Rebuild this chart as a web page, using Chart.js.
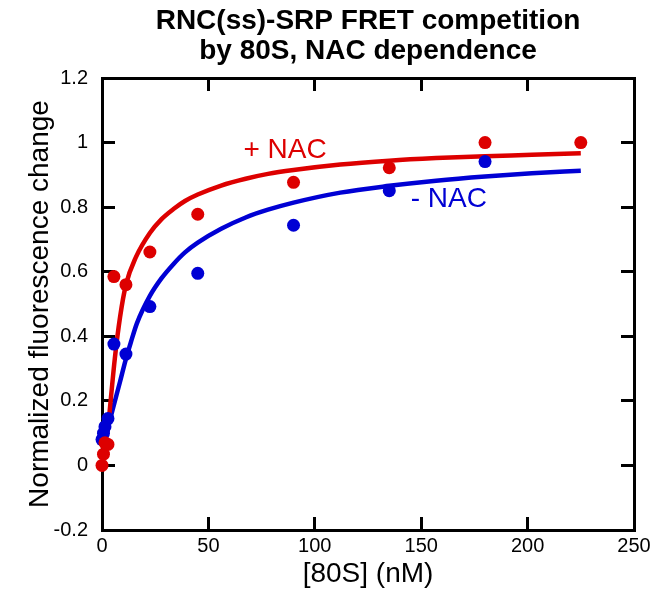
<!DOCTYPE html>
<html>
<head>
<meta charset="utf-8">
<script src="https://cdn.jsdelivr.net/npm/chart.js@4"></script>
<style>
  html, body { margin: 0; padding: 0; background: #fff; }
  #wrap { width: 656px; height: 598px; }
</style>
</head>
<body>
<div id="wrap"><canvas id="fret"></canvas></div>
<script>
// measured points, [80S] in nM
const plusNacConc = [0, 0.7, 1.4, 2.8, 5.6, 11.25, 22.5, 45, 90, 135, 180, 225];
const plusNacSignal = [0.0, 0.035, 0.07, 0.065, 0.585, 0.56, 0.661, 0.778, 0.877, 0.922, 1.0, 1.0];
const minusNacConc = [0, 0.7, 1.4, 2.8, 5.6, 11.25, 22.5, 45, 90, 135, 180];
const minusNacSignal = [0.08, 0.1, 0.12, 0.145, 0.376, 0.345, 0.492, 0.595, 0.744, 0.851, 0.941];

// fitted curves
const plusFitConc = [0, 1, 2, 3, 4.2, 6, 8.5, 11.25, 16, 22.5, 28, 33.75, 39, 45, 56, 67.5, 78, 90, 112, 135, 157, 180, 202, 225];
const plusFitSignal = [0.02, 0.05, 0.09, 0.13, 0.21, 0.33, 0.46, 0.56, 0.646, 0.72, 0.763, 0.795, 0.819, 0.839, 0.867, 0.888, 0.903, 0.915, 0.932, 0.944, 0.952, 0.958, 0.962, 0.967];
const minusFitConc = [0, 1.5, 3, 4.5, 8.5, 11.25, 13.5, 16.4, 22.5, 28, 33.75, 39, 45, 56, 67.5, 78, 90, 112, 135, 157, 180, 202, 225];
const minusFitSignal = [0.06, 0.09, 0.12, 0.16, 0.26, 0.33, 0.38, 0.44, 0.525, 0.58, 0.625, 0.66, 0.69, 0.733, 0.768, 0.792, 0.814, 0.845, 0.866, 0.882, 0.895, 0.905, 0.913];

const xTicks = [0, 50, 100, 150, 200, 250];
const xTickLabels = ['0', '50', '100', '150', '200', '250'];
const yTicks = [-0.2, 0, 0.2, 0.4, 0.6, 0.8, 1, 1.2];
const yTickLabels = ['-0.2', '0', '0.2', '0.4', '0.6', '0.8', '1', '1.2'];

const RED = '#dd0000';
const BLUE = '#0000d4';
const FONT = "'Liberation Sans', Arial, sans-serif";

const toXY = (xs, ys) => xs.map((x, i) => ({ x: x, y: ys[i] }));

// series names written next to the curves (data coordinates)
const seriesTags = [
  { text: '+ NAC', color: RED, x: 86, y: 0.975 },
  { text: '- NAC', color: BLUE, x: 163, y: 0.825 }
];

const tagPlugin = {
  id: 'seriesTags',
  afterDatasetsDraw(chart) {
    const { ctx, scales } = chart;
    ctx.save();
    ctx.font = '28px ' + FONT;
    ctx.textAlign = 'center';
    ctx.textBaseline = 'middle';
    seriesTags.forEach(t => {
      ctx.fillStyle = t.color;
      ctx.fillText(t.text, scales.x.getPixelForValue(t.x), scales.y.getPixelForValue(t.y));
    });
    ctx.restore();
  }
};

const frameGrid = { drawOnChartArea: false, drawTicks: true, tickLength: -13, lineWidth: 3, color: '#000' };
const frameBorder = { display: true, width: 3, color: '#000' };

function setTicks(values) {
  return scale => { scale.ticks = values.map(v => ({ value: v })); };
}

new Chart(document.getElementById('fret'), {
  type: 'scatter',
  data: {
    datasets: [
      { data: toXY(plusNacConc, plusNacSignal), backgroundColor: RED, borderColor: RED,
        pointRadius: 6.5, borderWidth: 0, order: 0, clip: false },
      { data: toXY(minusNacConc, minusNacSignal), backgroundColor: BLUE, borderColor: BLUE,
        pointRadius: 6.5, borderWidth: 0, order: 1, clip: false },
      { data: toXY(plusFitConc, plusFitSignal), showLine: true, pointRadius: 0, borderColor: RED,
        borderWidth: 4.5, cubicInterpolationMode: 'monotone', order: 2, clip: false },
      { data: toXY(minusFitConc, minusFitSignal), showLine: true, pointRadius: 0, borderColor: BLUE,
        borderWidth: 4.5, cubicInterpolationMode: 'monotone', order: 3, clip: false }
    ]
  },
  options: {
    responsive: true,
    maintainAspectRatio: false,
    animation: false,
    layout: { padding: { left: 0, right: 22, top: 0, bottom: 0 } },
    plugins: {
      legend: { display: false },
      tooltip: { enabled: false },
      title: {
        display: true,
        fullSize: false,
        text: ['RNC(ss)-SRP FRET competition', 'by 80S, NAC dependence'],
        color: '#000',
        font: { family: FONT, size: 28, weight: 'bold', lineHeight: 30 / 28 },
        padding: { top: 6, bottom: 12 }
      }
    },
    scales: {
      x: {
        type: 'linear', position: 'bottom', min: 0, max: 250,
        afterBuildTicks: setTicks(xTicks),
        afterFit: s => { s.height = 68; s.paddingLeft = 0; s.paddingRight = 0; },
        grid: frameGrid, border: frameBorder,
        ticks: { color: '#000', padding: 17, font: { family: FONT, size: 20 },
                 callback: (v, i) => xTickLabels[i] },
        title: { display: true, text: '[80S] (nM)', color: '#000',
                 font: { family: FONT, size: 28 }, padding: { top: 0, bottom: 7 } }
      },
      x2: {
        type: 'linear', position: 'top', min: 0, max: 250,
        afterBuildTicks: setTicks(xTicks),
        afterFit: s => { s.height = 0; s.paddingLeft = 0; s.paddingRight = 0; },
        grid: frameGrid, border: frameBorder,
        ticks: { display: false }
      },
      y: {
        type: 'linear', position: 'left', min: -0.2, max: 1.2,
        afterBuildTicks: setTicks(yTicks),
        afterFit: s => { s.width = 102; s.paddingTop = 0; s.paddingBottom = 0; },
        grid: frameGrid, border: frameBorder,
        ticks: { color: '#000', padding: 27, font: { family: FONT, size: 20 },
                 callback: (v, i) => yTickLabels[i] },
        title: { display: true, text: 'Normalized fluorescence change', color: '#000',
                 font: { family: FONT, size: 28 }, padding: { top: 23, bottom: 0 } }
      },
      y2: {
        type: 'linear', position: 'right', min: -0.2, max: 1.2,
        afterBuildTicks: setTicks(yTicks),
        afterFit: s => { s.width = 0; s.paddingTop = 0; s.paddingBottom = 0; },
        grid: frameGrid, border: frameBorder,
        ticks: { display: false }
      }
    }
  },
  plugins: [tagPlugin]
});
</script>
</body>
</html>
